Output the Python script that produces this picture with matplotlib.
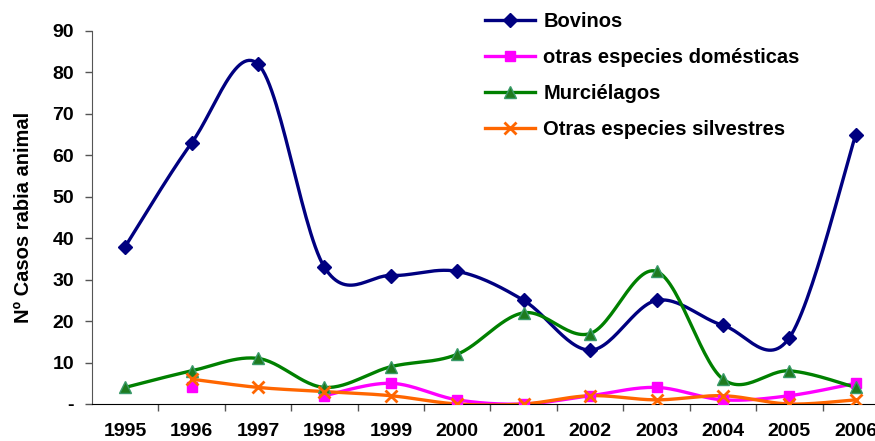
import numpy as np
import matplotlib
matplotlib.use("Agg")
import matplotlib.pyplot as plt

years = ["1995", "1996", "1997", "1998", "1999", "2000", "2001", "2002", "2003", "2004", "2005", "2006"]
bovinos = [38, 63, 82, 33, 31, 32, 25, 13, 25, 19, 16, 65]
otras_domesticas = [np.nan, 4, np.nan, 2, 5, 1, 0, 2, 4, 1, 2, 5]
murcielagos = [4, 8, 11, 4, 9, 12, 22, 17, 32, 6, 8, 4]
otras_silvestres = [np.nan, 6, 4, 3, 2, 0, 0, 2, 1, 2, 0, 1]
y_ticks = [0, 10, 20, 30, 40, 50, 60, 70, 80, 90]
y_ticklabels = ["-", "10", "20", "30", "40", "50", "60", "70", "80", "90"]

plt.rcParams['font.family'] = ['Liberation Sans', 'DejaVu Sans']
plt.rcParams['font.weight'] = 'bold'

fig = plt.figure(figsize=(8.75, 4.41), dpi=100)
ax = fig.add_axes([92/875, 1-404/441, (889-92)/875, (404-31)/441])


def smooth(xs, ys, n=30):
    xs = np.asarray(xs, float); ys = np.asarray(ys, float)
    ox, oy = [], []
    for i in range(len(xs) - 1):
        p0 = np.array([xs[max(i-1, 0)], ys[max(i-1, 0)]])
        p1 = np.array([xs[i], ys[i]])
        p2 = np.array([xs[i+1], ys[i+1]])
        p3 = np.array([xs[min(i+2, len(xs)-1)], ys[min(i+2, len(xs)-1)]])
        c1 = p1 + (p2 - p0) / 6
        c2 = p2 - (p3 - p1) / 6
        t = np.linspace(0, 1, n)[:, None]
        b = (1-t)**3*p1 + 3*(1-t)**2*t*c1 + 3*(1-t)*t**2*c2 + t**3*p2
        ox.extend(b[:, 0]); oy.extend(b[:, 1])
    return ox, oy


def draw(vals, color, marker, ms, mfc, mec, mew, label):
    x = np.arange(len(vals), dtype=float)
    v = np.asarray(vals, float)
    runs = []
    cur = []
    for i in range(len(v)):
        if np.isnan(v[i]):
            if cur:
                runs.append(cur); cur = []
        else:
            cur.append(i)
    if cur:
        runs.append(cur)
    for r in runs:
        if len(r) > 1:
            sx, sy = smooth(x[r], v[r])
            ax.plot(sx, sy, color=color, lw=2.4, solid_capstyle='round', zorder=2)
    ax.plot(x, v, linestyle='none', marker=marker, ms=ms, mfc=mfc, mec=mec, mew=mew, zorder=3)
    ax.plot([], [], color=color, lw=2.4, marker=marker, ms=ms, mfc=mfc, mec=mec, mew=mew, label=label)


draw(bovinos, '#000080', 'D', 7, '#000080', '#000080', 1, 'Bovinos')
draw(otras_domesticas, '#FF00FF', 's', 7.5, '#FF00FF', '#FF00FF', 1, 'otras especies domésticas')
draw(murcielagos, '#008000', '^', 8.5, '#1E7B1E', '#3A9A6A', 1, 'Murciélagos')
draw(otras_silvestres, '#FF6600', 'x', 8.5, '#FF6600', '#FF6600', 2, 'Otras especies silvestres')

ax.set_xlim(-0.5, 11.5)
ax.set_ylim(0, 90)
ax.set_xticks(range(len(years)))
ax.set_xticklabels(years, fontsize=14, fontweight='bold')
ax.set_xticks(np.arange(0.5, 11, 1), minor=True)
ax.tick_params(axis='x', which='major', length=0, pad=14)
ax.tick_params(axis='x', which='minor', length=5, width=1, direction='out', color='#555555')
ax.set_yticks(y_ticks)
ax.set_yticklabels(y_ticklabels, fontsize=14, fontweight='bold')
ax.tick_params(axis='y', length=5, width=1, direction='out', color='#555555', pad=8)
ax.spines['top'].set_visible(False)
ax.spines['right'].set_visible(False)
ax.spines['left'].set_color('#555555')
ax.spines['bottom'].set_color('#000000')
ax.set_ylabel('Nº Casos rabia animal', fontsize=14.5, fontweight='bold', labelpad=14)

leg = ax.legend(loc='upper left', bbox_to_anchor=(485/875, 1-12/441), bbox_transform=fig.transFigure,
                frameon=False, fontsize=14.5, handlelength=2.5, handletextpad=0.4,
                labelspacing=0.85, borderpad=0, borderaxespad=0)
for t in leg.get_texts():
    t.set_fontweight('bold')

fig.savefig('out.png', dpi=100)
